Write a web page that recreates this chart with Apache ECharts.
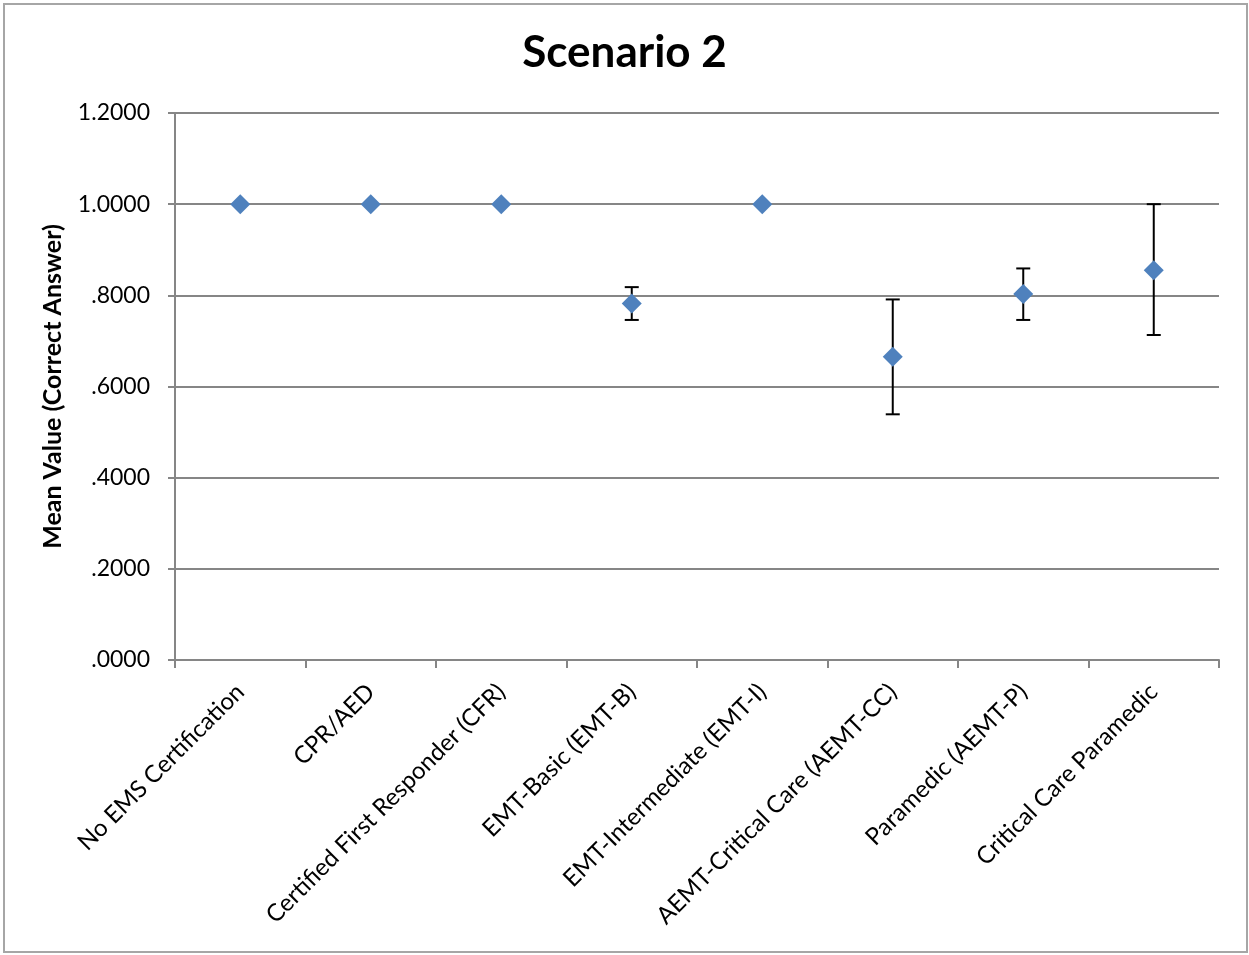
<!DOCTYPE html>
<html>
<head>
<meta charset="utf-8">
<script src="https://cdn.jsdelivr.net/npm/echarts@6/dist/echarts.min.js"></script>
<style>
html,body{margin:0;padding:0;background:#fff;}
#wrap{position:absolute;left:3px;top:3px;width:1241px;height:946px;border:2px solid #a6a6a6;}
#c{position:absolute;left:0;top:0;width:1249px;height:955px;}
</style>
</head>
<body>
<div id="wrap"></div>
<div id="c"></div>
<script>
var categories = ["No EMS Certification","CPR/AED","Certified First Responder (CFR)","EMT-Basic (EMT-B)","EMT-Intermediate (EMT-I)","AEMT-Critical Care (AEMT-CC)","Paramedic (AEMT-P)","Critical Care Paramedic"];
var means = [1.0, 1.0, 1.0, 0.782, 1.0, 0.665, 0.803, 0.855];
var upper = [null, null, null, 0.818, null, 0.791, 0.859, 1.0];
var lower = [null, null, null, 0.746, null, 0.539, 0.746, 0.713];

var errData = [];
for (var i = 0; i < categories.length; i++) {
  if (upper[i] != null) errData.push([i, lower[i], upper[i]]);
}
var FONT = "Lato, 'Open Sans', sans-serif";
var chart = echarts.init(document.getElementById('c'));
chart.setOption({
  animation: false,
  title: {
    text: 'Scenario 2', left: 'center', top: 26,
    textStyle: {fontFamily: FONT, fontSize: 44, fontWeight: 'bold', color: '#000'}
  },
  grid: {left: 175, right: 30, top: 113, bottom: 295, containLabel: false},
  xAxis: {
    type: 'category', data: categories, boundaryGap: true,
    axisLine: {lineStyle: {color: '#868686', width: 2}},
    axisTick: {show: true, length: 8, lineStyle: {color: '#868686', width: 2}, alignWithLabel: false},
    axisLabel: {rotate: 45, fontFamily: FONT, fontSize: 24, color: '#000', margin: 28, interval: 0}
  },
  yAxis: {
    type: 'value', min: 0, max: 1.2, interval: 0.2,
    name: 'Mean Value (Correct Answer)', nameLocation: 'middle', nameGap: 110,
    nameTextStyle: {fontFamily: FONT, fontSize: 25, fontWeight: 'bold', color: '#000'},
    axisLine: {show: true, lineStyle: {color: '#868686', width: 2}},
    axisTick: {show: true, length: 7, lineStyle: {color: '#868686', width: 2}},
    splitLine: {lineStyle: {color: '#868686', width: 2}},
    axisLabel: {
      fontFamily: FONT, fontSize: 23, color: '#000', margin: 25,
      formatter: function (v) { var s = v.toFixed(4); return s.charAt(0) === '0' ? s.substring(1) : s; }
    }
  },
  series: [
    {
      type: 'custom',
      data: errData,
      z: 2,
      renderItem: function (params, api) {
        var x = api.value(0);
        var lo = api.coord([x, api.value(1)]);
        var hi = api.coord([x, api.value(2)]);
        var hw = 7;
        var st = {stroke: '#000', lineWidth: 2};
        return {
          type: 'group',
          children: [
            {type: 'line', shape: {x1: hi[0], y1: hi[1], x2: lo[0], y2: lo[1]}, style: st},
            {type: 'line', shape: {x1: hi[0] - hw, y1: hi[1], x2: hi[0] + hw, y2: hi[1]}, style: st},
            {type: 'line', shape: {x1: lo[0] - hw, y1: lo[1], x2: lo[0] + hw, y2: lo[1]}, style: st}
          ]
        };
      }
    },
    {
      type: 'scatter',
      data: means,
      symbol: 'diamond',
      symbolSize: [20, 20],
      z: 3,
      itemStyle: {color: '#4F81BD', opacity: 1}
    }
  ]
});
</script>
</body>
</html>
